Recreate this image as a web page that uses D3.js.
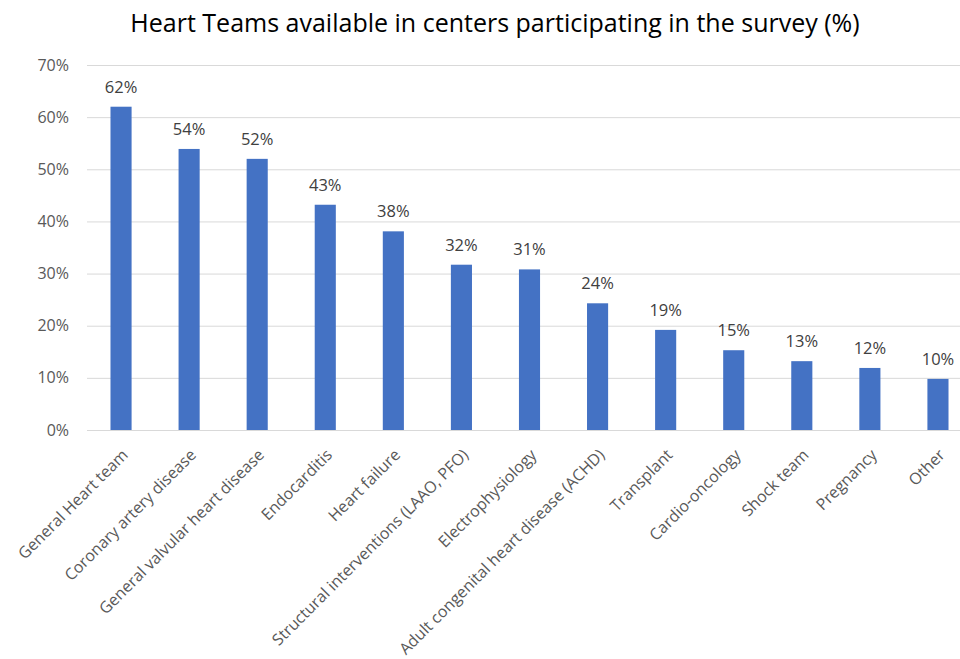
<!DOCTYPE html>
<html><head><meta charset="utf-8">
<script src="https://cdn.jsdelivr.net/npm/d3@7"></script>
<style>body{margin:0;background:#fff;} svg{display:block;}</style>
</head><body>
<script>
const categories = ["General Heart team","Coronary artery disease","General valvular heart disease","Endocarditis","Heart failure","Structural interventions (LAAO, PFO)","Electrophysiology","Adult congenital heart disease (ACHD)","Transplant","Cardio-oncology","Shock team","Pregnancy","Other"];
const values = [62, 53.9, 52, 43.2, 38.1, 31.7, 30.8, 24.3, 19.2, 15.3, 13.2, 11.9, 9.8];
const labels = ["62%","54%","52%","43%","38%","32%","31%","24%","19%","15%","13%","12%","10%"];
const yTicks = [0,10,20,30,40,50,60,70];
const title = "Heart Teams available in centers participating in the survey (%)";

const W = 960, H = 659;
const font = "'Open Sans', 'Noto Sans', sans-serif";
const svg = d3.select("body").append("svg").attr("width", W).attr("height", H);

const x = d3.scaleBand().domain(categories).range([87, 972]).paddingInner(0.69).paddingOuter(0.345);
const y = d3.scaleLinear().domain([0, 70]).range([430, 65]);

svg.append("text").attr("x", 495).attr("y", 32).attr("text-anchor", "middle")
  .attr("font-family", font).attr("font-size", 25).attr("fill", "#000").text(title);

const yAxis = svg.append("g").attr("transform", "translate(87,0)")
  .call(d3.axisLeft(y).tickValues(yTicks).tickSize(-(960-87)).tickFormat(d => d + "%"));
yAxis.select(".domain").remove();
yAxis.selectAll(".tick line").attr("stroke", "#d9d9d9").attr("stroke-width", 1);
yAxis.selectAll(".tick text").attr("x", -18).attr("font-family", font).attr("font-size", 16).attr("fill", "#595959");

svg.append("g").selectAll("rect").data(values).join("rect")
  .attr("x", (d, i) => x(categories[i])).attr("width", x.bandwidth())
  .attr("y", d => y(d)).attr("height", d => y(0) - y(d)).attr("fill", "#4472C4");

svg.append("g").selectAll("text").data(values).join("text")
  .attr("x", (d, i) => x(categories[i]) + x.bandwidth() / 2)
  .attr("y", d => y(d) - 14).attr("text-anchor", "middle")
  .attr("font-family", font).attr("font-size", 16.5).attr("fill", "#404040")
  .text((d, i) => labels[i]);

const xAxis = svg.append("g").attr("transform", "translate(0,430)")
  .call(d3.axisBottom(x).tickSize(0));
xAxis.select(".domain").remove();
xAxis.selectAll(".tick text")
  .attr("font-family", font).attr("font-size", 16).attr("fill", "#595959")
  .attr("text-anchor", "end").attr("dy", "0.35em")
  .attr("transform", "translate(4,22) rotate(-45)").attr("y", 0).attr("x", 0);
</script>
</body></html>
